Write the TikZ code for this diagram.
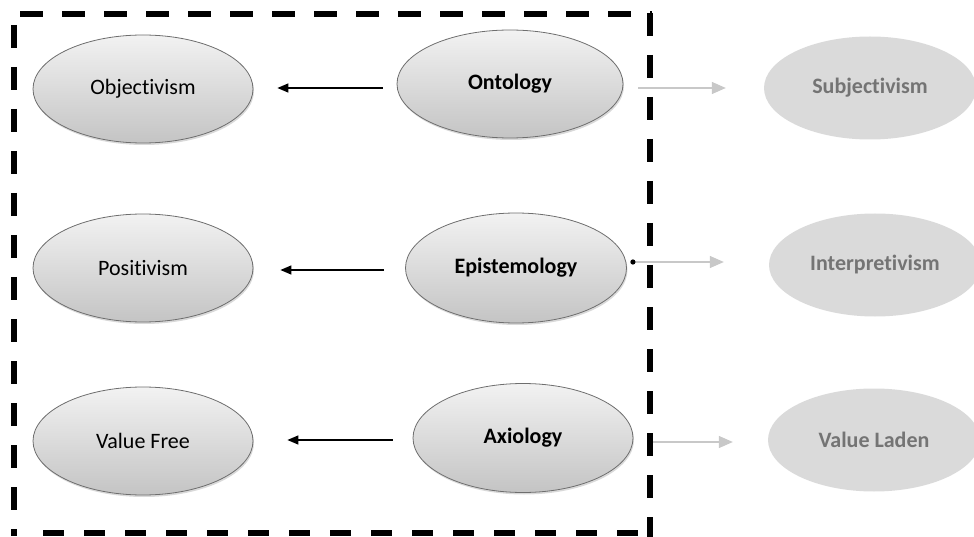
\documentclass[tikz,border=0pt]{standalone}
\usepackage{fontspec}
\setmainfont{Carlito}[Ligatures=NoCommon]
\usetikzlibrary{shapes.geometric,shadows,arrows.meta}
\definecolor{ellout}{HTML}{6E6E6E}
\definecolor{elltop}{HTML}{F2F2F2}
\definecolor{ellbot}{HTML}{C4C4C4}
\definecolor{faintfill}{HTML}{DADADA}
\definecolor{fainttext}{HTML}{747474}
\definecolor{faintline}{HTML}{C8C8C8}
\tikzset{
  mainell/.style={ellipse, draw=ellout, line width=0.8pt, top color=elltop, bottom color=ellbot,
    minimum width=220pt, minimum height=108pt, inner sep=0pt, font=\fontsize{22}{26}\selectfont,
    drop shadow={shadow xshift=1pt, shadow yshift=-2pt, opacity=0.15, fill=black}},
  boldell/.style={mainell, font=\fontsize{22}{26}\selectfont\bfseries},
  faintell/.style={ellipse, fill=faintfill, minimum width=212pt, minimum height=103pt, inner sep=0pt,
    text=fainttext, font=\fontsize{22}{26}\selectfont\bfseries},
  blackarrow/.style={draw=black, line width=1.4pt, -{Triangle[length=11pt,width=9pt]}},
  greyarrow/.style={draw=faintline, line width=1.4pt, -{Triangle[length=14pt,width=12pt]}},
  frame/.style={draw=black, line width=5.5pt, dash pattern=on 23pt off 19pt},
}
\begin{document}
\begin{tikzpicture}[x=1pt,y=-1pt]
\useasboundingbox (0,0) rectangle (974,537);
\node[mainell] (obj) at (143,89) {Objectivism};
\node[mainell] (pos) at (143,268) {Positivism};
\node[mainell] (vfree) at (143,441) {Value Free};
\node[boldell, minimum width=226pt] (onto) at (510,84) {Ontology};
\node[boldell, minimum width=221pt, minimum height=110pt] (epis) at (516,268) {Epistemology};
\node[boldell, minimum height=109pt] (axio) at (523,438) {Axiology};
\node[faintell] (subj) at (870,88) {Subjectivism};
\node[faintell] (interp) at (875,265) {Interpretivism};
\node[faintell] (vladen) at (874,440) {Value Laden};
\draw[blackarrow] ([shift={(-14,4)}]onto.west) -- ([shift={(24,-1)}]obj.east);
\draw[blackarrow] ([shift={(-21,2)}]epis.west) -- ([shift={(27,2)}]pos.east);
\draw[blackarrow] ([shift={(-20,2)}]axio.west) -- ([shift={(34,-1)}]vfree.east);
\draw[greyarrow] ([shift={(15,4)}]onto.east) -- ([shift={(-38,0)}]subj.west);
\draw[greyarrow] ([shift={(6,-6)}]epis.east) coordinate (edot) -- ([shift={(-45,-3)}]interp.west);
\fill[black] (edot) circle (2.6pt);
\draw[greyarrow] ([shift={(20,4)}]axio.east) -- ([shift={(-35,2)}]vladen.west);
\coordinate (ftl) at (20,14);
\coordinate (ftr) at (652,14);
\coordinate (frt) at (650,13);
\coordinate (frb) at (650,537);
\coordinate (flt) at (14,25);
\coordinate (flb) at (14,536);
\coordinate (fbl) at (43,533);
\coordinate (fbr) at (652,533);
\draw[frame] (ftl) -- (ftr);
\draw[frame] (frt) -- (frb);
\draw[frame] (flt) -- (flb);
\draw[frame, dash pattern=on 21pt off 20pt] (fbl) -- (fbr);
\end{tikzpicture}
\end{document}
